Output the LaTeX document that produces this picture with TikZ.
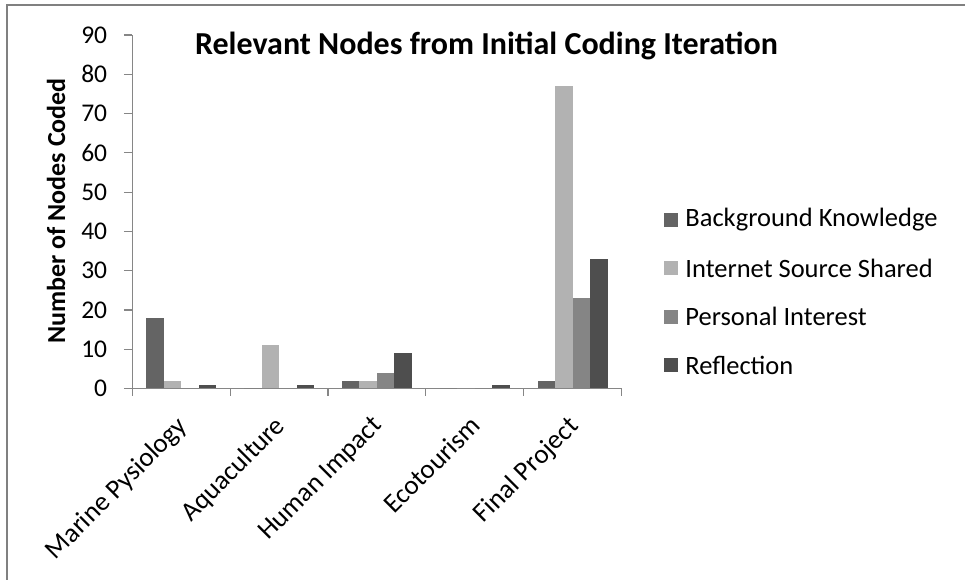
\documentclass[tikz,border=0pt]{standalone}
\usepackage{fontspec}
\setmainfont{Carlito}
\usetikzlibrary{positioning}

\definecolor{bkgray}{HTML}{646464}
\definecolor{isgray}{HTML}{B2B2B2}
\definecolor{pigray}{HTML}{858585}
\definecolor{rfgray}{HTML}{4E4E4E}
\definecolor{axisgray}{HTML}{868686}

\begin{document}
\begin{tikzpicture}[
    x=1pt, y=1pt,
    axisline/.style={draw=axisgray, line width=1.2pt}, % axis lines and ticks
    ticklabel/.style={anchor=east, inner sep=0pt, font=\fontsize{25.5}{30}\selectfont},
    catlabel/.style={anchor=north east, rotate=45, inner sep=0pt, font=\fontsize{27}{32}\selectfont},
    legendtext/.style={anchor=west, inner sep=0pt, font=\fontsize{26.5}{31}\selectfont},
    keybox/.style={minimum size=14pt, inner sep=0pt}
]
\useasboundingbox (0,0) rectangle (965,580);
\draw[gray, line width=1.5pt] (7,-5) -- (7,575) -- (970,575); % chart frame

% titles
\node[anchor=base, font=\bfseries\fontsize{32}{36}\selectfont] (title) at (486.5,525)
    {Relevant Nodes from Initial Coding Iteration};
\node[rotate=90, font=\bfseries\fontsize{26}{30}\selectfont] (ylabel) at (56,369)
    {Number of Nodes Coded};

\begin{scope}[shift={(132.3,191.5)}, y=3.927pt]
    % value axis
    \coordinate (origin) at (0,0);
    \coordinate (top) at (0,90);
    \coordinate (xend) at (489,0);
    \draw[axisline] (top) -- (origin) -- (xend);
    \foreach \v in {0,10,...,90} {
        \draw[axisline] (-8.5,\v) -- (0,\v);
        \node[ticklabel] (tick\v) at (-25,\v) {\v};
    }
    % category ticks and labels
    \foreach \i/\name in {0/Marine Pysiology,1/Aquaculture,2/Human Impact,3/Ecotourism,4/Final Project} {
        \draw[axisline] (97.8*\i,0) -- (97.8*\i,-1.9);
        \node[catlabel] (cat\i) at (97.8*\i+43,-6.5) {\name};
    }
    \draw[axisline] (489,0) -- (489,-1.9);
    % bars: category / BK / ISS / PI / R
    \foreach \i/\a/\b/\c/\d in {0/18/2/0/1,1/0/11/0/1,2/2/2/4/9,3/0/0/0/1,4/2/77/23/33} {
        \fill[bkgray] (97.8*\i+14,0) rectangle +(17.5,\a);
        \fill[isgray] (97.8*\i+31.5,0) rectangle +(17.5,\b);
        \fill[pigray] (97.8*\i+49,0) rectangle +(17.5,\c);
        \fill[rfgray] (97.8*\i+66.5,0) rectangle +(17.5,\d);
    }
\end{scope}

% legend
\node[keybox, fill=bkgray] (keybk) at (671,360) {};
\node[keybox, fill=isgray, below=34pt of keybk] (keyis) {};
\node[keybox, fill=pigray, below=34pt of keyis] (keypi) {};
\node[keybox, fill=rfgray, below=34pt of keypi] (keyrf) {};
\node[legendtext, right=7pt of keybk] (txtbk) {Background Knowledge};
\node[legendtext, right=7pt of keyis] (txtis) {Internet Source Shared};
\node[legendtext, right=7pt of keypi] (txtpi) {Personal Interest};
\node[legendtext, right=7pt of keyrf] (txtrf) {Reflection};
\end{tikzpicture}
\end{document}
